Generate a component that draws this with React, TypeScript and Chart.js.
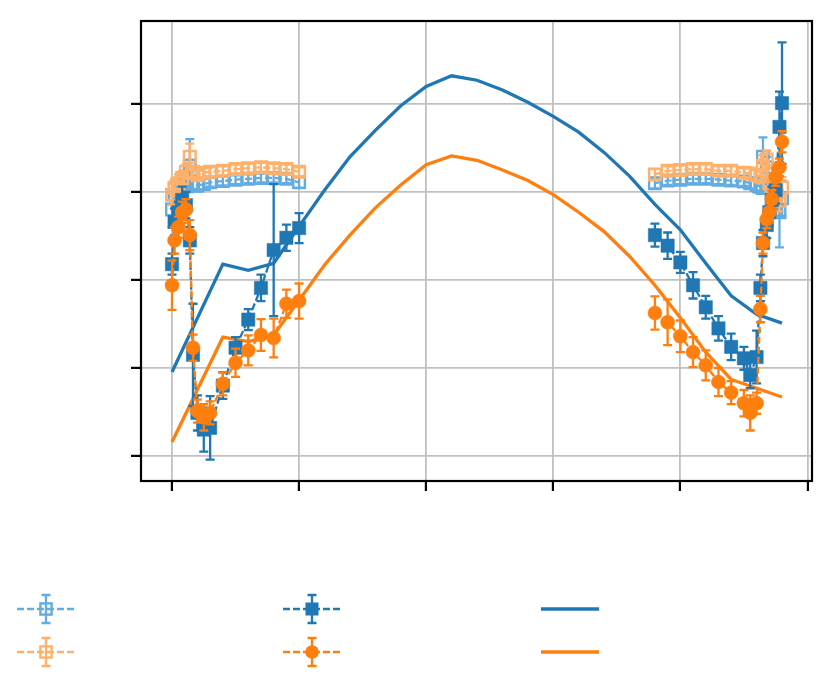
import { useEffect, useRef } from 'react';
import { Chart, registerables } from 'chart.js';

Chart.register(...registerables);

// observation times (left and right groups)
const xLeft = [0, 0.02, 0.05, 0.08, 0.11, 0.14, 0.165, 0.2, 0.25, 0.3, 0.4, 0.5, 0.6, 0.7, 0.8, 0.9, 1.0];
const xRight = [3.8, 3.9, 4.0, 4.1, 4.2, 4.3, 4.4, 4.5, 4.55, 4.6, 4.63, 4.65, 4.68, 4.7, 4.72, 4.75, 4.78, 4.8];

// light blue, open squares
const lightBlueLeft = [2.80, 2.97, 3.02, 3.08, 3.14, 3.30, 3.10, 3.07, 3.09, 3.11, 3.125, 3.14, 3.15, 3.16, 3.16, 3.15, 3.11];
const lightBlueLeftErr = [0.2, 0.15, 0.12, 0.1, 0.1, 0.3, 0.08, 0.06, 0.06, 0.05, 0.05, 0.05, 0.05, 0.05, 0.05, 0.05, 0.06];
const lightBlueRight = [3.10, 3.13, 3.14, 3.15, 3.15, 3.14, 3.13, 3.12, 3.10, 3.08, 3.06, 3.40, 3.28, 3.05, 2.90, 2.85, 2.77, 2.93];
const lightBlueRightErr = [0.06, 0.05, 0.05, 0.05, 0.05, 0.05, 0.05, 0.05, 0.06, 0.08, 0.08, 0.22, 0.12, 0.1, 0.12, 0.12, 0.4, 0.2];

// light orange, open squares
const lightOrangeLeft = [2.97, 3.05, 3.10, 3.16, 3.23, 3.40, 3.23, 3.19, 3.22, 3.23, 3.24, 3.26, 3.27, 3.28, 3.27, 3.26, 3.23];
const lightOrangeLeftErr = [0.12, 0.1, 0.1, 0.08, 0.08, 0.15, 0.06, 0.05, 0.05, 0.05, 0.05, 0.05, 0.05, 0.05, 0.05, 0.05, 0.05];
const lightOrangeRight = [3.20, 3.24, 3.25, 3.26, 3.26, 3.24, 3.24, 3.22, 3.21, 3.19, 3.18, 3.30, 3.37, 3.10, 3.00, 2.95, 2.90, 3.05];
const lightOrangeRightErr = [0.06, 0.05, 0.05, 0.05, 0.05, 0.05, 0.05, 0.05, 0.06, 0.06, 0.08, 0.12, 0.1, 0.1, 0.1, 0.1, 0.12, 0.12];

// dark blue, filled squares
const blueLeft = [2.18, 2.66, 2.77, 2.91, 2.85, 2.45, 1.15, 0.49, 0.30, 0.32, 0.80, 1.23, 1.55, 1.91, 2.34, 2.48, 2.59];
const blueLeftErr = [0.12, 0.15, 0.12, 0.15, 0.15, 0.15, 0.58, 0.2, 0.25, 0.36, 0.15, 0.12, 0.12, 0.15, 0.75, 0.15, 0.17];
const blueRight = [2.51, 2.39, 2.20, 1.94, 1.69, 1.45, 1.24, 1.11, 0.92, 1.125, 1.91, 2.42, 2.625, 2.77, 2.91, 3.02, 3.74, 4.01];
const blueRightErr = [0.13, 0.15, 0.12, 0.15, 0.13, 0.14, 0.15, 0.13, 0.15, 0.3, 0.15, 0.15, 0.15, 0.15, 0.15, 0.15, 0.4, 0.69];

// orange, filled circles
const orangeLeft = [1.94, 2.45, 2.60, 2.77, 2.80, 2.51, 1.23, 0.51, 0.44, 0.49, 0.82, 1.06, 1.20, 1.375, 1.34, 1.73, 1.76];
const orangeLeftErr = [0.28, 0.15, 0.12, 0.12, 0.12, 0.17, 0.15, 0.13, 0.15, 0.13, 0.13, 0.16, 0.17, 0.18, 0.22, 0.16, 0.2];
const orangeRight = [1.625, 1.52, 1.36, 1.18, 1.03, 0.84, 0.72, 0.60, 0.49, 0.60, 1.67, 2.42, 2.69, 2.77, 2.92, 3.17, 3.28, 3.57];
const orangeRightErr = [0.19, 0.26, 0.18, 0.17, 0.17, 0.16, 0.13, 0.15, 0.2, 0.12, 0.15, 0.12, 0.1, 0.1, 0.1, 0.1, 0.1, 0.12];

// model curves
const xModel = [0, 0.4, 0.6, 0.8, 1.0, 1.2, 1.4, 1.6, 1.8, 2.0, 2.2, 2.4, 2.6, 2.8, 3.0, 3.2, 3.4, 3.6, 3.8, 4.0, 4.2, 4.4, 4.6, 4.8];
const blueModel = [0.955, 2.18, 2.11, 2.19, 2.61, 3.02, 3.40, 3.70, 3.98, 4.20, 4.32, 4.27, 4.16, 4.02, 3.86, 3.68, 3.45, 3.18, 2.86, 2.57, 2.19, 1.82, 1.61, 1.51];
const orangeModel = [0.16, 1.35, 1.30, 1.375, 1.77, 2.17, 2.51, 2.82, 3.08, 3.31, 3.41, 3.36, 3.25, 3.13, 2.97, 2.77, 2.55, 2.27, 1.94, 1.57, 1.18, 0.87, 0.77, 0.67];

const xTicks = [0, 1, 2, 3, 4, 5];
const yTicks = [0, 1, 2, 3, 4];

const C_BLUE = '#1f77b4';
const C_ORANGE = '#ff7f0e';
const C_LBLUE = '#62ace2';
const C_LORANGE = '#ffb06a';
const DASH = [7, 3];
const CAP = 4.5;
const OBS_LW = 2.3;

const pts = (xs: number[], ys: number[]) => xs.map((x, i) => ({ x, y: ys[i] }));

type Style = { color: string; shape: 'rect' | 'circle'; filled: boolean; order: number };
const sLBlue: Style = { color: C_LBLUE, shape: 'rect', filled: false, order: 4 };
const sLOrange: Style = { color: C_LORANGE, shape: 'rect', filled: false, order: 3 };
const sBlue: Style = { color: C_BLUE, shape: 'rect', filled: true, order: 2 };
const sOrange: Style = { color: C_ORANGE, shape: 'circle', filled: true, order: 1 };

function obsSet(xs: number[], ys: number[], errs: number[], s: Style) {
  return {
    data: pts(xs, ys),
    errors: errs,
    showLine: true,
    borderColor: s.color,
    borderWidth: OBS_LW,
    borderDash: DASH,
    pointStyle: s.shape,
    pointRadius: s.shape === 'rect' ? (s.filled ? 9.4 : 8.2) : 7,
    pointBackgroundColor: s.filled ? s.color : 'rgba(0,0,0,0)',
    pointBorderColor: s.color,
    pointBorderWidth: s.filled ? 0.5 : 2.4,
    order: s.order,
  };
}

function modelSet(ys: number[], color: string, order: number) {
  return {
    data: pts(xModel, ys),
    showLine: true,
    borderColor: color,
    borderWidth: 3.3,
    pointRadius: 0,
    order,
  };
}

const errorBars = {
  id: 'errorBars',
  beforeDatasetDraw(chart: any, args: any) {
    const ds = chart.data.datasets[args.index];
    if (!ds.errors) return;
    const { ctx, scales: { x, y } } = chart;
    ctx.save();
    ctx.strokeStyle = ds.borderColor;
    ctx.lineWidth = OBS_LW;
    ds.data.forEach((p: any, i: number) => {
      const e = ds.errors[i];
      const px = x.getPixelForValue(p.x);
      const top = y.getPixelForValue(p.y + e);
      const bot = y.getPixelForValue(p.y - e);
      ctx.beginPath();
      ctx.moveTo(px, top); ctx.lineTo(px, bot);
      ctx.moveTo(px - CAP, top); ctx.lineTo(px + CAP, top);
      ctx.moveTo(px - CAP, bot); ctx.lineTo(px + CAP, bot);
      ctx.stroke();
    });
    ctx.restore();
  },
};

const frame = {
  id: 'frame',
  afterDraw(chart: any) {
    const { ctx, chartArea: a } = chart;
    ctx.save();
    ctx.strokeStyle = '#000';
    ctx.lineWidth = 2.2;
    ctx.strokeRect(a.left, a.top, a.right - a.left, a.bottom - a.top);
    ctx.restore();
  },
};

// legend without labels: three columns, two rows
const legendItems: { col: number; row: number; s: Style | null; color: string }[] = [
  { col: 0, row: 0, s: sLBlue, color: C_LBLUE },
  { col: 0, row: 1, s: sLOrange, color: C_LORANGE },
  { col: 1, row: 0, s: sBlue, color: C_BLUE },
  { col: 1, row: 1, s: sOrange, color: C_ORANGE },
  { col: 2, row: 0, s: null, color: C_BLUE },
  { col: 2, row: 1, s: null, color: C_ORANGE },
];
const legendCols = [17, 283, 541];
const legendRows = [609, 652];
const legendLen = 58;

const legend = {
  id: 'bareLegend',
  afterDraw(chart: any) {
    const ctx = chart.ctx;
    ctx.save();
    legendItems.forEach(({ col, row, s, color }) => {
      const x0 = legendCols[col];
      const y0 = legendRows[row];
      const cx = x0 + legendLen / 2;
      ctx.strokeStyle = color;
      if (!s) {
        ctx.lineWidth = 3.3;
        ctx.setLineDash([]);
        ctx.beginPath(); ctx.moveTo(x0, y0); ctx.lineTo(x0 + legendLen, y0); ctx.stroke();
        return;
      }
      ctx.lineWidth = OBS_LW;
      ctx.setLineDash(DASH);
      ctx.beginPath(); ctx.moveTo(x0, y0); ctx.lineTo(x0 + legendLen, y0); ctx.stroke();
      ctx.setLineDash([]);
      ctx.beginPath();
      ctx.moveTo(cx, y0 - 14); ctx.lineTo(cx, y0 + 14);
      ctx.moveTo(cx - CAP, y0 - 14); ctx.lineTo(cx + CAP, y0 - 14);
      ctx.moveTo(cx - CAP, y0 + 14); ctx.lineTo(cx + CAP, y0 + 14);
      ctx.stroke();
      ctx.fillStyle = color;
      if (s.shape === 'circle') {
        ctx.beginPath(); ctx.arc(cx, y0, 6.8, 0, Math.PI * 2); ctx.fill();
      } else if (s.filled) {
        ctx.fillRect(cx - 6.5, y0 - 6.5, 13, 13);
      } else {
        ctx.lineWidth = 2.4;
        ctx.strokeRect(cx - 5.6, y0 - 5.6, 11.2, 11.2);
      }
    });
    ctx.restore();
  },
};

export default function App() {
  const ref = useRef<HTMLCanvasElement>(null);

  useEffect(() => {
    if (!ref.current) return;
    const chart = new Chart(ref.current, {
      type: 'scatter',
      data: {
        datasets: [
          obsSet(xLeft, lightBlueLeft, lightBlueLeftErr, sLBlue),
          obsSet(xRight, lightBlueRight, lightBlueRightErr, sLBlue),
          obsSet(xLeft, lightOrangeLeft, lightOrangeLeftErr, sLOrange),
          obsSet(xRight, lightOrangeRight, lightOrangeRightErr, sLOrange),
          obsSet(xLeft, blueLeft, blueLeftErr, sBlue),
          obsSet(xRight, blueRight, blueRightErr, sBlue),
          obsSet(xLeft, orangeLeft, orangeLeftErr, sOrange),
          obsSet(xRight, orangeRight, orangeRightErr, sOrange),
          modelSet(blueModel, C_BLUE, 6),
          modelSet(orangeModel, C_ORANGE, 5),
        ] as any,
      },
      options: {
        responsive: true,
        maintainAspectRatio: false,
        animation: false,
        layout: { padding: { left: 0, top: 21, right: 18, bottom: 0 } },
        plugins: { legend: { display: false }, tooltip: { enabled: false } },
        scales: {
          x: {
            type: 'linear',
            min: -0.244,
            max: 5.036,
            afterBuildTicks: (s: any) => { s.ticks = xTicks.map(v => ({ value: v })); },
            afterFit: (s: any) => { s.height = 205; },
            ticks: { display: false },
            border: { display: false },
            grid: { color: '#c0c0c0', lineWidth: 1.8, drawTicks: true, tickLength: 10, tickColor: '#000', tickWidth: 2.2 },
          },
          y: {
            type: 'linear',
            min: -0.284,
            max: 4.943,
            afterBuildTicks: (s: any) => { s.ticks = yTicks.map(v => ({ value: v })); },
            afterFit: (s: any) => { s.width = 141; },
            ticks: { display: false },
            border: { display: false },
            grid: { color: '#c0c0c0', lineWidth: 1.8, drawTicks: true, tickLength: 10, tickColor: '#000', tickWidth: 2.2 },
          },
        },
      },
      plugins: [errorBars, frame, legend],
    });
    return () => { chart.destroy(); };
  }, []);

  return (
    <div style={{ position: 'fixed', left: 0, top: 0, width: 830, height: 686, background: '#fff' }}>
      <canvas ref={ref} />
    </div>
  );
}
